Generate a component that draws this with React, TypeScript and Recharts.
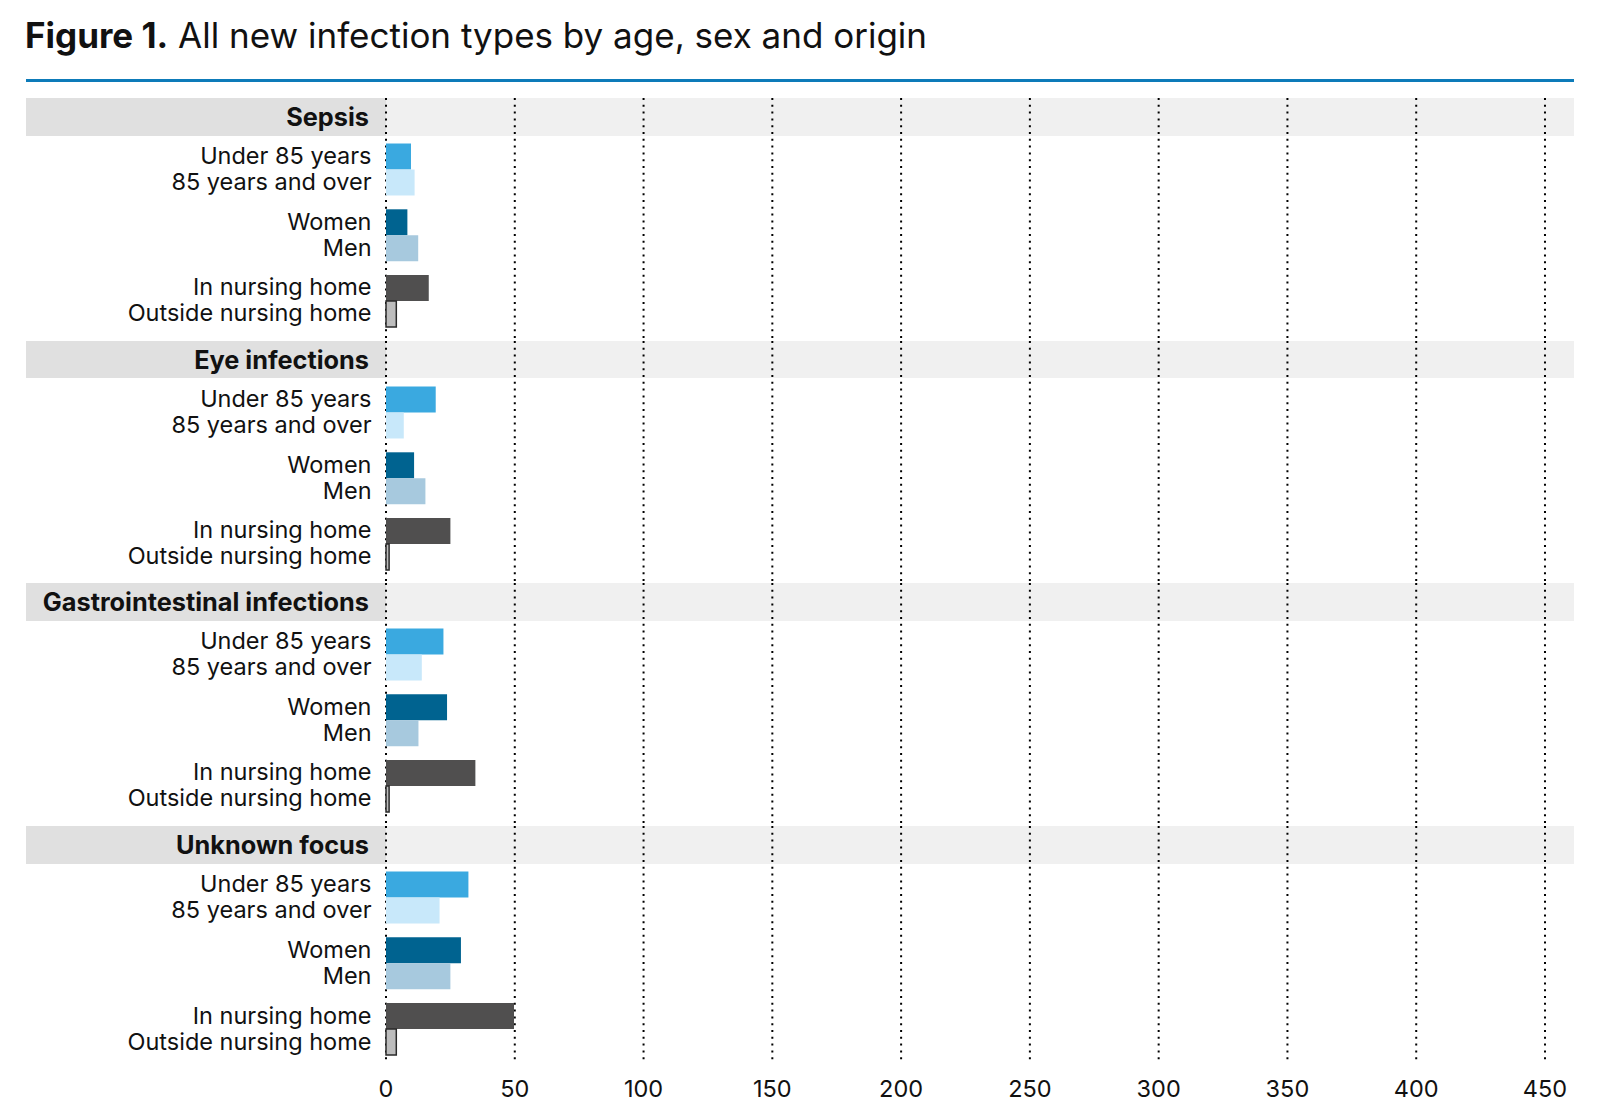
import { BarChart, Bar, XAxis, YAxis, CartesianGrid, Cell } from "recharts";

const infectionTypes = ["Sepsis", "Eye infections", "Gastrointestinal infections", "Unknown focus"];
const dimensions = ["age", "sex", "origin"];
const pairLabels = [
  ["Under 85 years", "85 years and over"],
  ["Women", "Men"],
  ["In nursing home", "Outside nursing home"],
];

const under85 = [9.7, 19.3, 22.3, 32.0];
const over85 = [11.1, 6.9, 13.9, 20.8];
const women = [8.3, 10.9, 23.7, 29.1];
const men = [12.5, 15.3, 12.6, 25.0];
const inNursingHome = [16.6, 25.0, 34.7, 49.7];
const outsideNursingHome = [4.0, 1.2, 1.2, 4.0];

const xTicks = [0, 50, 100, 150, 200, 250, 300, 350, 400, 450];

const topColors = ["#3aa9e0", "#006390", "#504f4f"];
const bottomColors = ["#c8e8fa", "#a7c9de", "#bdbdbd"];

const GROUP_H = 242.6;
const HEADER_H = 37.5;
const AXIS_W = 360;
const FONT = "Inter, 'Noto Sans', sans-serif";
const INK = "#111";

function rowsFor(i: number) {
  return [
    { dim: "age", top: under85[i], bottom: over85[i] },
    { dim: "sex", top: women[i], bottom: men[i] },
    { dim: "origin", top: inNursingHome[i], bottom: outsideNursingHome[i] },
  ];
}

function PairTick(props: any) {
  const { x, y, payload } = props;
  const k = dimensions.indexOf(payload.value);
  const labels = pairLabels[k] || ["", ""];
  return (
    <g>
      <text x={x} y={y - 13.9 + 8.4} textAnchor="end" fontSize={23.5} fill={INK}>
        {labels[0]}
      </text>
      <text x={x} y={y + 12.1 + 8.4} textAnchor="end" fontSize={23.5} fill={INK}>
        {labels[1]}
      </text>
    </g>
  );
}

function GroupChart({ index }: { index: number }) {
  const last = index === infectionTypes.length - 1;
  const rows = rowsFor(index);
  const height = last ? 281 : GROUP_H;
  return (
    <div style={{ position: "relative", height }}>
      <div style={{ position: "absolute", left: 0, top: 0, width: AXIS_W, height: HEADER_H, background: "#e0e0e0" }} />
      <div style={{ position: "absolute", left: AXIS_W, top: 0, right: 0, height: HEADER_H, background: "#f0f0f0" }} />
      <div
        style={{
          position: "absolute",
          left: 0,
          top: 0,
          width: AXIS_W - 17,
          height: HEADER_H,
          lineHeight: HEADER_H + "px",
          textAlign: "right",
          fontWeight: 700,
          fontSize: 25.3,
          whiteSpace: "nowrap",
          color: INK,
        }}
      >
        {infectionTypes[index]}
      </div>
      <div style={{ position: "absolute", left: 0, top: 0 }}>
        <BarChart
          width={1548}
          height={height}
          data={rows}
          layout="vertical"
          barGap={0}
          margin={{ top: 0, right: 29, bottom: 0, left: 0 }}
        >
          <CartesianGrid horizontal={false} stroke="#000" strokeWidth={2} strokeDasharray="2 4.8" />
          <XAxis
            type="number"
            domain={[0, 450]}
            ticks={xTicks}
            hide={!last}
            axisLine={false}
            tickLine={false}
            tickSize={0}
            tickMargin={17}
            height={44}
            tick={{ fontSize: 23.5, fill: INK }}
          />
          <YAxis
            type="category"
            dataKey="dim"
            width={AXIS_W}
            axisLine={false}
            tickLine={false}
            tickSize={0}
            tickMargin={14.5}
            padding={{ top: 38.5, bottom: last ? 1.1 : 6.7 }}
            tick={<PairTick />}
            interval={0}
          />
          <Bar dataKey="top" barSize={26} isAnimationActive={false}>
            {rows.map((r, j) => (
              <Cell key={r.dim} fill={topColors[j]} />
            ))}
          </Bar>
          <Bar dataKey="bottom" barSize={26} isAnimationActive={false}>
            {rows.map((r, j) => (
              <Cell
                key={r.dim}
                fill={bottomColors[j]}
                stroke={j === 2 ? "#2a2a2a" : "none"}
                strokeWidth={j === 2 ? 1.5 : 0}
              />
            ))}
          </Bar>
        </BarChart>
      </div>
    </div>
  );
}

export default function App() {
  return (
    <div style={{ position: "relative", width: 1584, height: 1099, fontFamily: FONT, color: INK }}>
      <div
        style={{
          position: "absolute",
          left: 17,
          top: 6.8,
          fontSize: 35,
          lineHeight: "40px",
          whiteSpace: "nowrap",
        }}
      >
        <b>Figure 1.</b> All new infection types by age, sex and origin
      </div>
      <div style={{ position: "absolute", left: 18, top: 71.3, width: 1548, height: 3, background: "#0d7bb9" }} />
      <div style={{ position: "absolute", left: 18, top: 90.3, width: 1548 }}>
        {infectionTypes.map((t, i) => (
          <GroupChart key={t} index={i} />
        ))}
      </div>
    </div>
  );
}
